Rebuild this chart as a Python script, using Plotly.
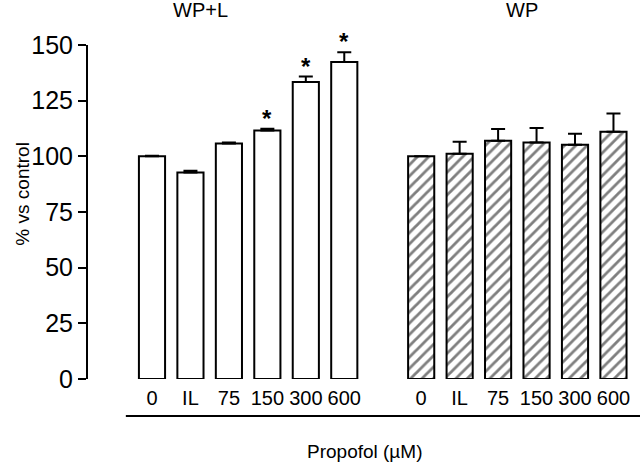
import plotly.graph_objects as go

categories = ["0", "IL", "75", "150", "300", "600"]
wpl_values = [100, 92.7, 105.8, 111.6, 133.4, 142.4]
wpl_errors = [0.3, 0.8, 0.4, 0.8, 2.4, 4.3]
wp_values = [100, 101.2, 107.0, 106.2, 105.2, 111.0]
wp_errors = [0.0, 5.4, 5.3, 6.5, 4.9, 8.2]
significant = [False, False, False, True, True, True]
y_ticks = [0, 25, 50, 75, 100, 125, 150]

FONT = "Liberation Sans, Arial, Helvetica, sans-serif"

x1 = list(range(len(categories)))
x2 = [i + len(categories) + 1 for i in range(len(categories))]

fig = go.Figure()
fig.add_trace(go.Bar(
    x=x1, y=wpl_values, width=0.68,
    marker=dict(color="white", line=dict(color="black", width=2)),
    error_y=dict(type="data", array=wpl_errors, arrayminus=[0] * len(wpl_errors),
                 symmetric=False, color="black", thickness=2, width=7),
    showlegend=False,
))
fig.add_trace(go.Bar(
    x=x2, y=wp_values, width=0.68,
    marker=dict(color="white", line=dict(color="black", width=2),
                pattern=dict(shape="/", fgcolor="black", bgcolor="white", size=8, solidity=0.35)),
    error_y=dict(type="data", array=wp_errors, arrayminus=[0] * len(wp_errors),
                 symmetric=False, color="black", thickness=2, width=7),
    showlegend=False,
))

for xi, v, e, s in zip(x1, wpl_values, wpl_errors, significant):
    if s:
        fig.add_annotation(x=xi, y=v + e, yshift=-5, text="<b>*</b>", showarrow=False,
                           yanchor="bottom", font=dict(family=FONT, size=24, color="black"))

fig.add_annotation(x=1.25, xref="x", y=1.0, yref="paper", yshift=35, yanchor="middle",
                   text="WP+L", showarrow=False,
                   font=dict(family=FONT, size=20, color="black"))
fig.add_annotation(x=9.62, xref="x", y=1.0, yref="paper", yshift=35, yanchor="middle",
                   text="WP", showarrow=False,
                   font=dict(family=FONT, size=20, color="black"))
fig.add_annotation(x=0.5, xref="paper", y=-0.216, yref="paper", yanchor="middle",
                   text="Propofol (µM)", showarrow=False,
                   font=dict(family=FONT, size=19, color="black"))
fig.add_annotation(x=-0.141, xref="paper", y=0.554, yref="paper", textangle=-90,
                   text="% vs control", showarrow=False,
                   font=dict(family=FONT, size=19, color="black"))

fig.add_shape(type="line", xref="x", yref="paper", x0=-0.68, x1=12.69,
              y0=-0.111, y1=-0.111, line=dict(color="black", width=2))

fig.update_layout(
    width=640, height=464,
    margin=dict(l=88, r=0, t=45, b=85),
    paper_bgcolor="white", plot_bgcolor="white",
    barmode="overlay",
    font=dict(family=FONT, color="black"),
    xaxis=dict(range=[-1.664, 12.69], tickvals=x1 + x2, ticktext=categories + categories,
               showgrid=False, zeroline=False, showline=False, ticks="",
               tickfont=dict(family=FONT, size=20, color="black"),
               ticklabelstandoff=5, fixedrange=True),
    yaxis=dict(range=[0, 150], tickvals=y_ticks, showgrid=False, zeroline=False,
               showline=True, linecolor="black", linewidth=2,
               ticks="outside", ticklen=8, tickwidth=2, tickcolor="black",
               tickfont=dict(family=FONT, size=25, color="black"), fixedrange=True),
)

fig.write_html("out.html", config={"displayModeBar": False},
               post_script="document.body.style.margin='0';document.body.style.padding='0';"
                           "document.body.style.overflow='hidden';")
